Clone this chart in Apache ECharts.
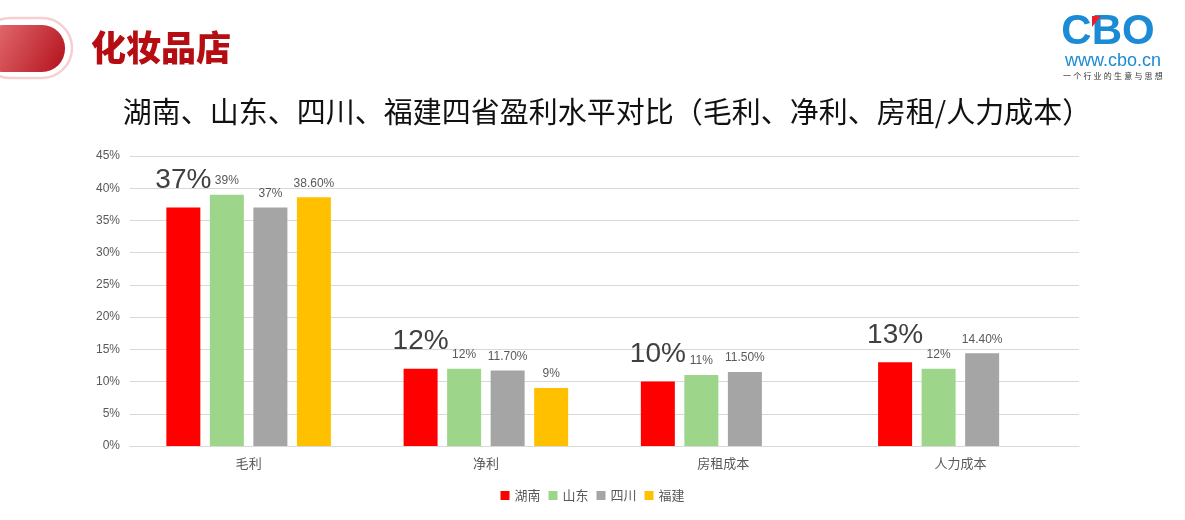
<!DOCTYPE html>
<html><head><meta charset="utf-8">
<script src="https://cdn.jsdelivr.net/npm/echarts@6/dist/echarts.min.js"></script>
<style>html,body{margin:0;padding:0;background:#fff}#c{width:1185px;height:520px}</style>
</head><body><div id="c"></div>
<script>
const categories = ['毛利', '净利', '房租成本', '人力成本'];
const seriesNames = ['湖南', '山东', '四川', '福建'];
const hunan = [37, 12, 10, 13];
const shandong = [39, 12, 11, 12];
const sichuan = [37, 11.7, 11.5, 14.4];
const fujian = [38.6, 9, null, null];
const hunanLabels = ['37%', '12%', '10%', '13%'];
const shandongLabels = ['39%', '12%', '11%', '12%'];
const sichuanLabels = ['37%', '11.70%', '11.50%', '14.40%'];
const fujianLabels = ['38.60%', '9%', '', ''];
const yTicks = [0, 5, 10, 15, 20, 25, 30, 35, 40, 45];

const colors = ['#ff0000', '#9dd68a', '#a5a5a5', '#ffc000'];
const values = [hunan, shandong, sichuan, fujian];
const labels = [hunanLabels, shandongLabels, sichuanLabels, fujianLabels];

const chart = echarts.init(document.getElementById('c'));
const FONT = '"Noto Sans CJK SC", "Liberation Sans", sans-serif';

const series = seriesNames.map((name, i) => ({
  name: name,
  type: 'bar',
  data: values[i],
  barWidth: 34,
  barGap: '28%',
  barCategoryGap: '31%',
  itemStyle: { color: colors[i] },
  label: {
    show: true,
    position: 'top',
    distance: i === 0 ? 13 : 8,
    fontFamily: '"Liberation Sans", Arial, sans-serif',
    fontSize: i === 0 ? 28 : 12,
    color: i === 0 ? '#404040' : '#595959',
    formatter: p => labels[i][p.dataIndex]
  }
}));

const tagline = '一个行业的生意与思想'.split('');
const graphics = [
  { type: 'rect', shape: { x: -20, y: 18, width: 92, height: 60, r: 30 },
    style: { fill: 'none', stroke: '#f6cfd1', lineWidth: 2.5 } },
  { type: 'rect', shape: { x: -20, y: 25, width: 85, height: 47, r: 23 },
    style: { fill: new echarts.graphic.LinearGradient(0, 0, 1, 1, [
      { offset: 0, color: '#e9797d' }, { offset: 1, color: '#b3111b' }]) } },
  { type: 'text', x: 91, y: 48,
    style: { text: '化妆品店', fontSize: 35, fontWeight: 900, fill: '#b50d12',
      fontFamily: '"Noto Sans CJK SC", serif', textVerticalAlign: 'middle' } },
  { type: 'text', x: 607, y: 112,
    style: { text: '湖南、山东、四川、福建四省盈利水平对比（毛利、净利、房租/人力成本）',
      fontSize: 29, fill: '#111', fontFamily: FONT, textAlign: 'center', textVerticalAlign: 'middle' } },
  { type: 'text', x: 1108, y: 32,
    style: { text: 'CBO', fontSize: 42, fontWeight: 'bold', fill: '#1b8bd6',
      fontFamily: '"Liberation Sans", Arial, sans-serif', textAlign: 'center', textVerticalAlign: 'middle' } },
  { type: 'polygon', shape: { points: [[1092, 16], [1101, 16], [1092, 27]] }, style: { fill: '#e8202a' } },
  { type: 'text', x: 1113, y: 61,
    style: { text: 'www.cbo.cn', fontSize: 18, fill: '#1b8bd6',
      fontFamily: '"Liberation Sans", Arial, sans-serif', textAlign: 'center', textVerticalAlign: 'middle' } }
].concat(tagline.map((ch, k) => ({
  type: 'text', x: 1067 + k * 10.2, y: 76,
  style: { text: ch, fontSize: 8, fill: '#333', fontFamily: FONT, textAlign: 'center', textVerticalAlign: 'middle' }
})));

chart.setOption({
  animation: false,
  color: colors,
  textStyle: { fontFamily: FONT },
  grid: { left: 130, right: 106, top: 156, bottom: 74, containLabel: false },
  legend: {
    data: seriesNames, bottom: 13, left: 'center', icon: 'rect',
    itemWidth: 9, itemHeight: 9, itemGap: 8,
    textStyle: { color: '#595959', fontSize: 13, fontFamily: FONT }
  },
  xAxis: {
    type: 'category', data: categories,
    axisLine: { lineStyle: { color: '#d9d9d9', width: 1 } },
    axisTick: { show: false },
    axisLabel: { color: '#595959', fontSize: 13, margin: 11, fontFamily: FONT }
  },
  yAxis: {
    type: 'value', min: yTicks[0], max: yTicks[yTicks.length - 1], interval: yTicks[1] - yTicks[0],
    axisLine: { show: false }, axisTick: { show: false },
    splitLine: { lineStyle: { color: '#d9d9d9', width: 1 } },
    axisLabel: { formatter: '{value}%', color: '#595959', fontSize: 12, margin: 10,
      fontFamily: '"Liberation Sans", Arial, sans-serif' }
  },
  series: series,
  graphic: graphics
});
</script>
</body></html>
